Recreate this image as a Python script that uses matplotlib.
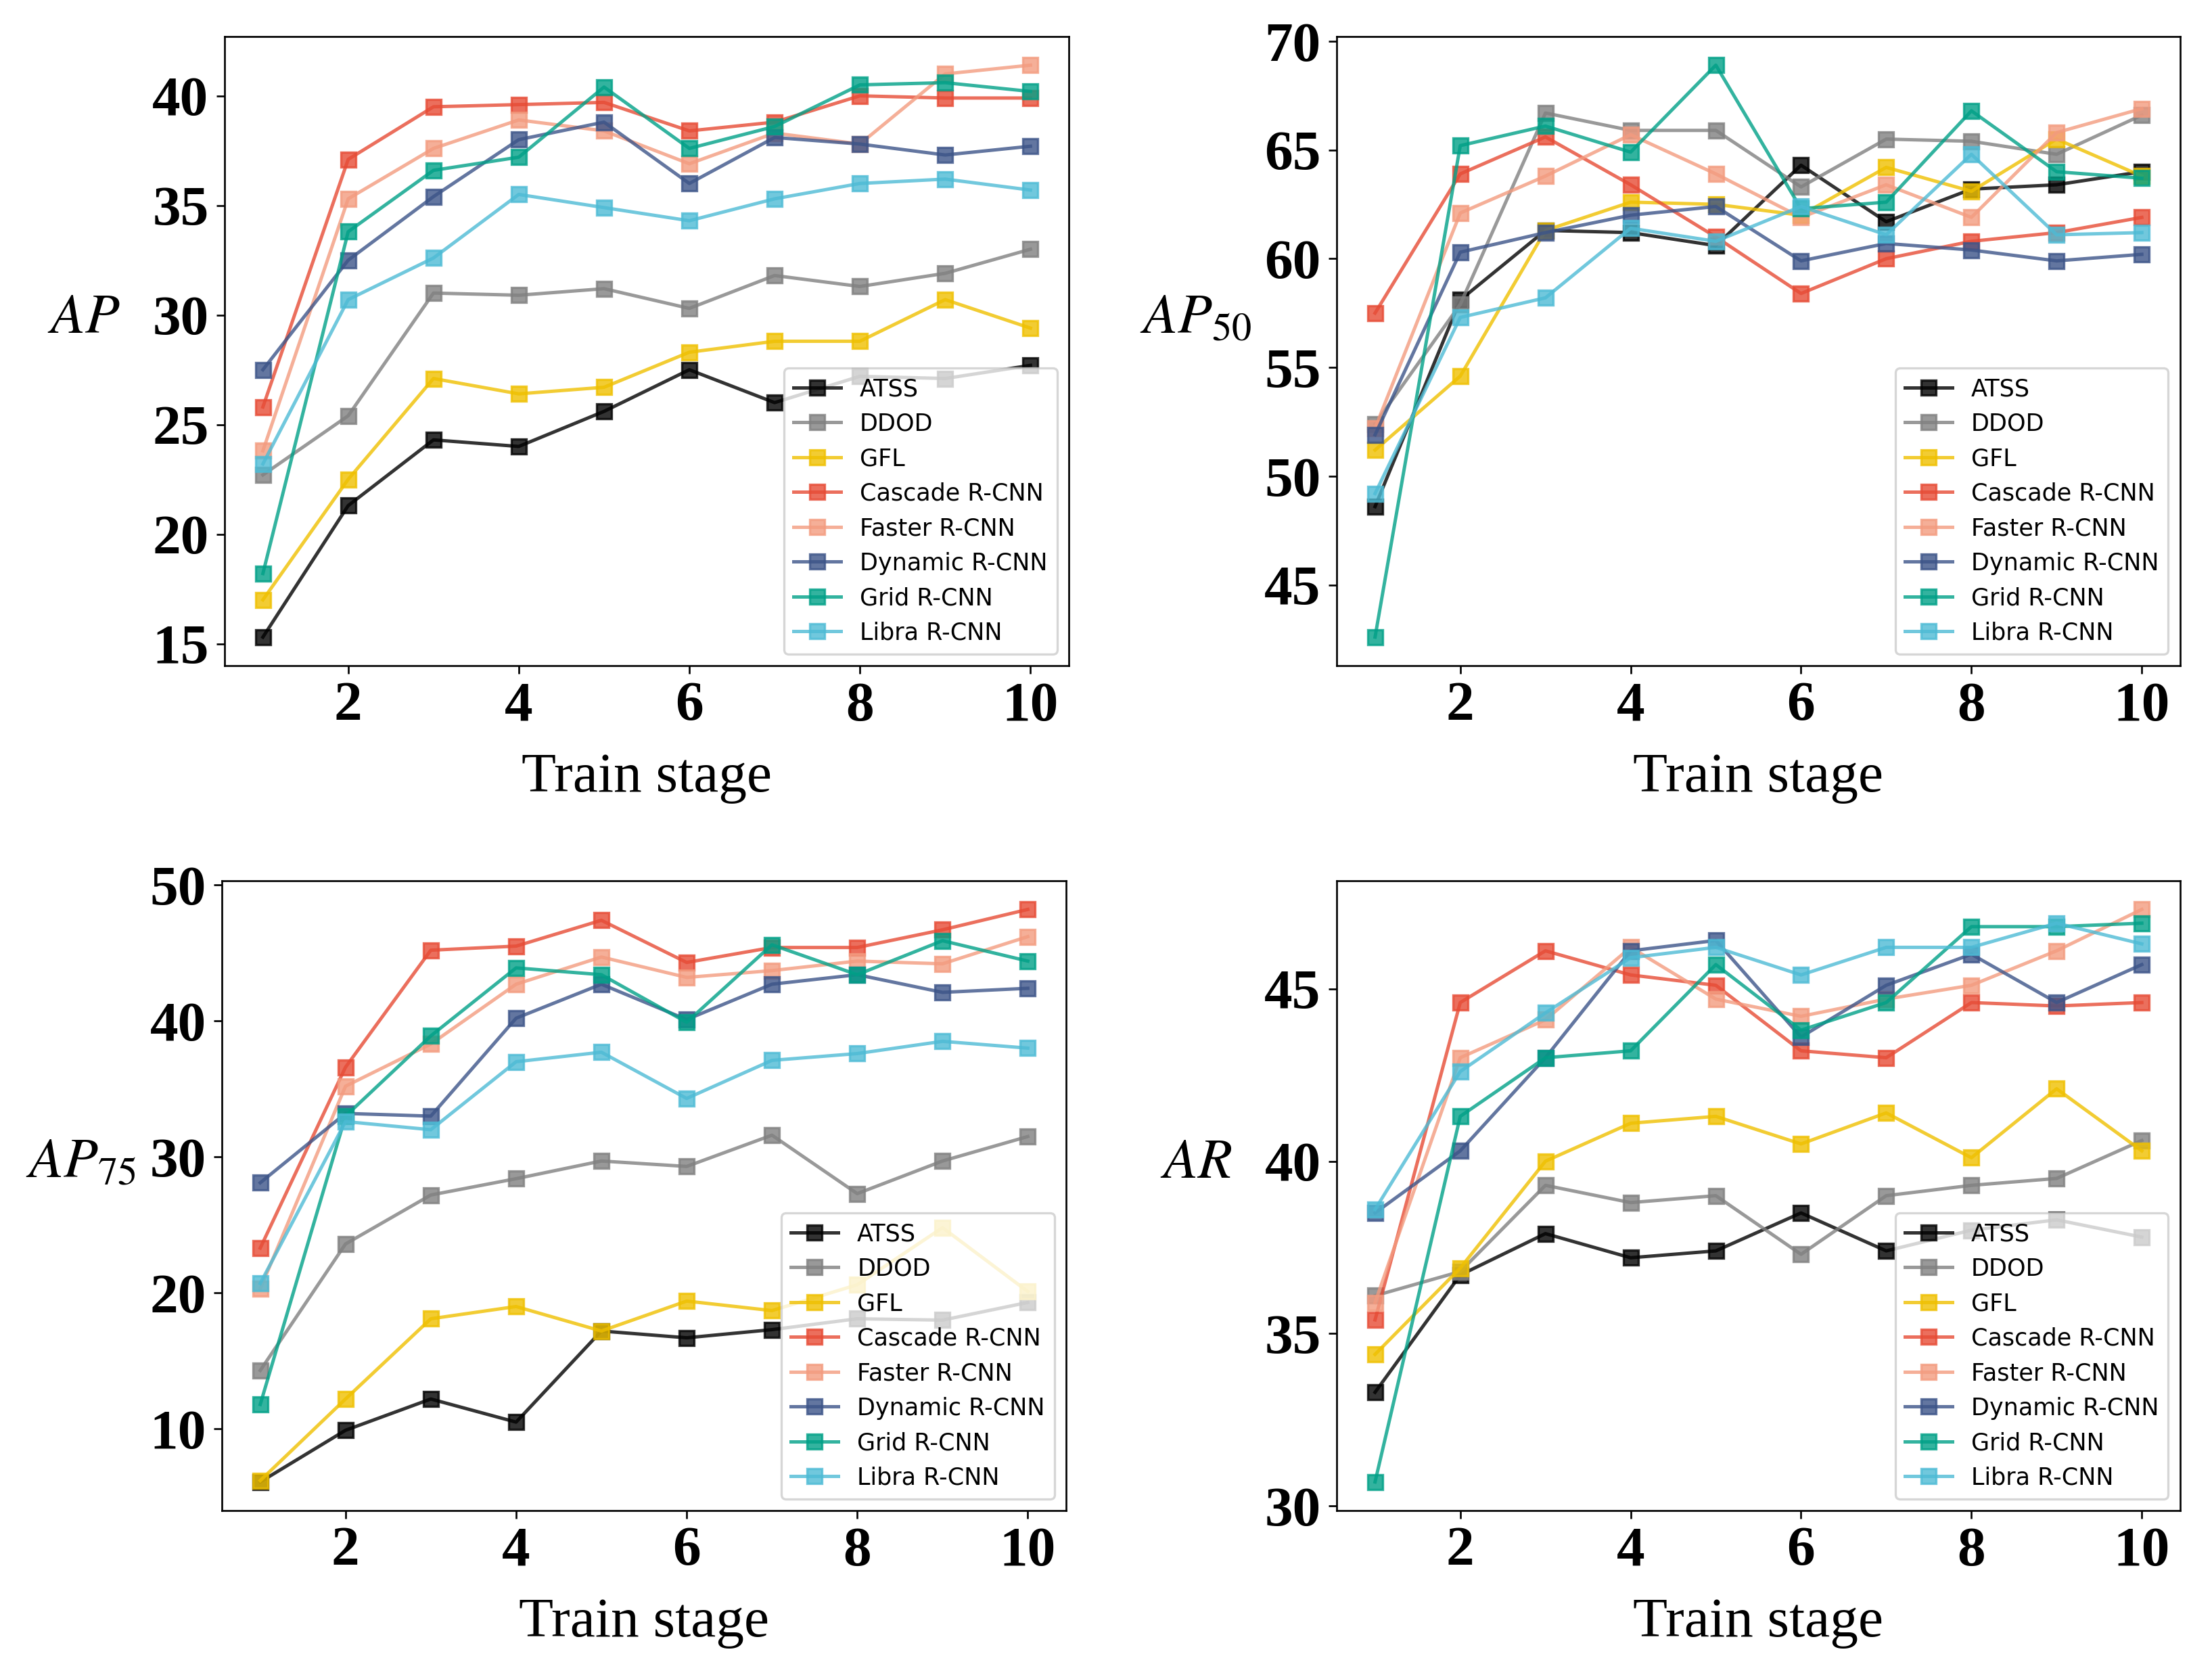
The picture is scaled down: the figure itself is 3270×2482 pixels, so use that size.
import numpy as np
import matplotlib
matplotlib.use("Agg")
import matplotlib.pyplot as plt

# Fonts: Times-like serif for ticks / axis labels, stix for the math labels
plt.rcParams['mathtext.fontset'] = 'stix'

stages = [1, 2, 3, 4, 5, 6, 7, 8, 9, 10]

models = ['ATSS', 'DDOD', 'GFL', 'Cascade R-CNN', 'Faster R-CNN',
          'Dynamic R-CNN', 'Grid R-CNN', 'Libra R-CNN']
colors = ['black', '#808080', '#EFC000', '#E64B35', '#F39B7F',
          '#3C5488', '#00A087', '#4DBBD5']

# AP
ap_atss = [15.3, 21.3, 24.3, 24.0, 25.6, 27.5, 26.0, 27.2, 27.1, 27.7]
ap_ddod = [22.7, 25.4, 31.0, 30.9, 31.2, 30.3, 31.8, 31.3, 31.9, 33.0]
ap_gfl = [17.0, 22.5, 27.1, 26.4, 26.7, 28.3, 28.8, 28.8, 30.7, 29.4]
ap_cascade = [25.8, 37.1, 39.5, 39.6, 39.7, 38.4, 38.8, 40.0, 39.9, 39.9]
ap_faster = [23.8, 35.3, 37.6, 38.9, 38.4, 36.9, 38.3, 37.8, 41.0, 41.4]
ap_dynamic = [27.5, 32.5, 35.4, 38.0, 38.8, 36.0, 38.1, 37.8, 37.3, 37.7]
ap_grid = [18.2, 33.8, 36.6, 37.2, 40.4, 37.6, 38.6, 40.5, 40.6, 40.2]
ap_libra = [23.2, 30.7, 32.6, 35.5, 34.9, 34.3, 35.3, 36.0, 36.2, 35.7]

# AP50
ap50_atss = [48.6, 58.1, 61.3, 61.2, 60.6, 64.3, 61.7, 63.2, 63.4, 64.0]
ap50_ddod = [52.4, 57.9, 66.7, 65.9, 65.9, 63.3, 65.5, 65.4, 64.8, 66.6]
ap50_gfl = [51.2, 54.6, 61.3, 62.6, 62.5, 62.0, 64.2, 63.1, 65.5, 63.8]
ap50_cascade = [57.5, 63.9, 65.6, 63.4, 61.0, 58.4, 60.0, 60.8, 61.2, 61.9]
ap50_faster = [52.2, 62.1, 63.8, 65.7, 63.9, 61.9, 63.4, 61.9, 65.8, 66.9]
ap50_dynamic = [51.9, 60.3, 61.2, 62.0, 62.4, 59.9, 60.7, 60.4, 59.9, 60.2]
ap50_grid = [42.6, 65.2, 66.1, 64.9, 68.9, 62.3, 62.6, 66.8, 64.0, 63.7]
ap50_libra = [49.2, 57.3, 58.2, 61.4, 60.8, 62.4, 61.1, 64.8, 61.1, 61.2]

# AP75
ap75_atss = [6.1, 9.9, 12.2, 10.5, 17.2, 16.7, 17.3, 18.1, 18.0, 19.3]
ap75_ddod = [14.3, 23.6, 27.2, 28.4, 29.7, 29.3, 31.6, 27.3, 29.7, 31.5]
ap75_gfl = [6.2, 12.2, 18.1, 19.0, 17.2, 19.4, 18.7, 20.6, 24.8, 20.1]
ap75_cascade = [23.3, 36.6, 45.2, 45.5, 47.4, 44.3, 45.4, 45.4, 46.7, 48.2]
ap75_faster = [20.3, 35.2, 38.3, 42.7, 44.7, 43.2, 43.7, 44.4, 44.2, 46.2]
ap75_dynamic = [28.1, 33.2, 33.0, 40.2, 42.7, 40.1, 42.7, 43.4, 42.1, 42.4]
ap75_grid = [11.8, 33.0, 38.9, 43.9, 43.4, 39.9, 45.6, 43.4, 45.9, 44.4]
ap75_libra = [20.7, 32.6, 32.0, 37.0, 37.7, 34.3, 37.1, 37.6, 38.5, 38.0]

# AR
ar_atss = [33.3, 36.7, 37.9, 37.2, 37.4, 38.5, 37.4, 38.0, 38.3, 37.8]
ar_ddod = [36.1, 36.8, 39.3, 38.8, 39.0, 37.3, 39.0, 39.3, 39.5, 40.6]
ar_gfl = [34.4, 36.9, 40.0, 41.1, 41.3, 40.5, 41.4, 40.1, 42.1, 40.3]
ar_cascade = [35.4, 44.6, 46.1, 45.4, 45.1, 43.2, 43.0, 44.6, 44.5, 44.6]
ar_faster = [35.9, 43.0, 44.1, 46.2, 44.7, 44.2, 44.7, 45.1, 46.1, 47.3]
ar_dynamic = [38.5, 40.3, 43.0, 46.1, 46.4, 43.6, 45.1, 46.0, 44.6, 45.7]
ar_grid = [30.7, 41.3, 43.0, 43.2, 45.7, 43.8, 44.6, 46.8, 46.8, 46.9]
ar_libra = [38.6, 42.6, 44.3, 45.9, 46.2, 45.4, 46.2, 46.2, 46.9, 46.3]

panels = [
    (r'$AP$', [ap_atss, ap_ddod, ap_gfl, ap_cascade, ap_faster, ap_dynamic, ap_grid, ap_libra],
     [15, 20, 25, 30, 35, 40]),
    (r'$AP_{50}$', [ap50_atss, ap50_ddod, ap50_gfl, ap50_cascade, ap50_faster, ap50_dynamic, ap50_grid, ap50_libra],
     [45, 50, 55, 60, 65, 70]),
    (r'$AP_{75}$', [ap75_atss, ap75_ddod, ap75_gfl, ap75_cascade, ap75_faster, ap75_dynamic, ap75_grid, ap75_libra],
     [10, 20, 30, 40, 50]),
    (r'$AR$', [ar_atss, ar_ddod, ar_gfl, ar_cascade, ar_faster, ar_dynamic, ar_grid, ar_libra],
     [30, 35, 40, 45]),
]

# axes positions [left, bottom, width, height] in figure fractions
positions = [
    [0.1015, 0.6035, 0.3817, 0.3747],
    [0.6043, 0.6035, 0.3813, 0.3747],
    [0.1003, 0.1003, 0.3817, 0.3751],
    [0.6043, 0.1003, 0.3813, 0.3751],
]

fig = plt.figure(figsize=(13.625, 10.342), dpi=240, facecolor='white')

for (ylab, series, yticks), pos in zip(panels, positions):
    ax = fig.add_axes(pos)
    for name, col, vals in zip(models, colors, series):
        ax.plot(stages, vals, marker='s', markersize=6.5, color=col, alpha=0.8, label=name)
    ax.set_yticks(yticks)
    ax.set_xticks([2, 4, 6, 8, 10])
    for lbl in ax.get_xticklabels() + ax.get_yticklabels():
        lbl.set_fontfamily('Liberation Serif')
        lbl.set_fontweight('bold')
        lbl.set_fontsize(25)
    ax.set_xlabel('Train stage', fontfamily='Liberation Serif', fontsize=25, labelpad=9)
    ax.set_ylabel(ylab, fontsize=25, rotation=0, ha='center', va='baseline')
    ax.yaxis.set_label_coords(-0.167, 0.529)
    ax.legend(loc='lower right', fontsize=10.5)

plt.savefig('out.png', dpi=240)
